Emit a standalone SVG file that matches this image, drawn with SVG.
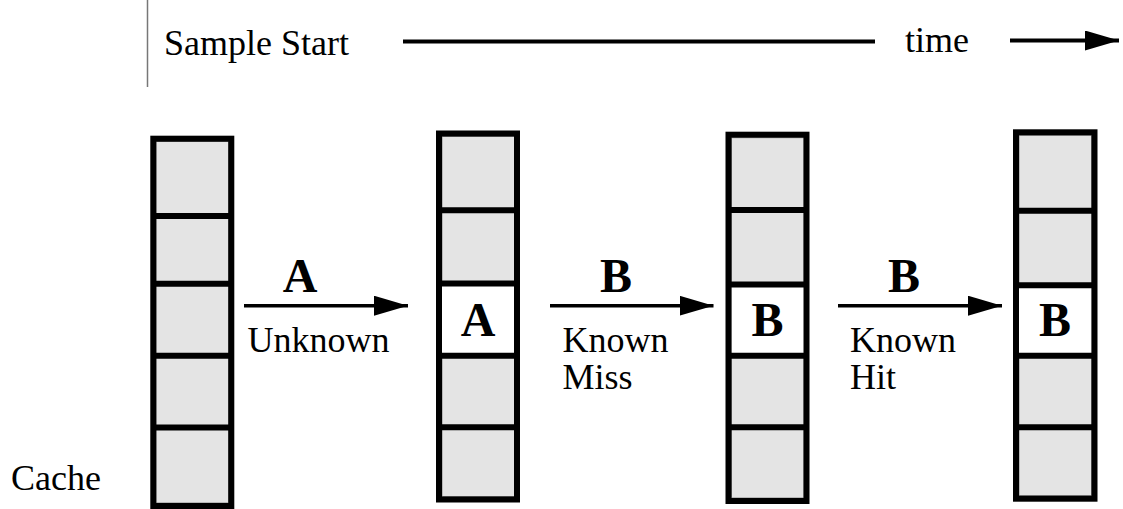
<svg xmlns="http://www.w3.org/2000/svg" width="1123" height="509" viewBox="0 0 1123 509">
<style>
.t{font-family:'Liberation Serif','Times New Roman',serif;font-size:36px;fill:#000}
.b{font-family:'Liberation Serif','Times New Roman',serif;font-size:48px;font-weight:bold;fill:#000}
.frame{fill:none;stroke:#000;stroke-width:6}
.cell{fill:#e4e4e4;stroke:#8a8a8a;stroke-width:1}
.div{stroke:#000;stroke-width:6}
.ln{stroke:#000;stroke-width:3.5;fill:none}
</style>
<defs>
<marker id="ah" markerUnits="userSpaceOnUse" markerWidth="34" markerHeight="20" refX="34" refY="10" orient="auto">
<polygon points="0,0 34,10 0,20" fill="#000"/>
</marker>
</defs>
<rect width="1123" height="509" fill="#fff"/>

<g id="header">
<line x1="147.5" y1="0" x2="147.5" y2="87" stroke="#777" stroke-width="1.5"/>
<text class="t" x="164" y="55">Sample Start</text>
<line x1="403" y1="41.5" x2="875" y2="41.5" stroke="#000" stroke-width="4"/>
<text class="t" x="905" y="52">time</text>
<line x1="1010" y1="40.5" x2="1119" y2="40.5" stroke="#000" stroke-width="4" marker-end="url(#ah)"/>
</g>

<g id="label-cache"><text class="t" x="11" y="490">Cache</text></g>

<g id="cache1">
<rect class="cell" x="156" y="141.5" width="72.5" height="361.5"/>
<line class="div" x1="153" y1="216" x2="231" y2="216"/>
<line class="div" x1="153" y1="283.7" x2="231" y2="283.7"/>
<line class="div" x1="153" y1="355.7" x2="231" y2="355.7"/>
<line class="div" x1="153" y1="427.5" x2="231" y2="427.5"/>
<rect class="frame" x="153.3" y="138.7" width="78" height="367.3"/>
</g>

<g id="cache2">
<rect class="cell" x="442" y="136.5" width="72.5" height="360"/>
<rect x="442" y="283" width="72.5" height="73" fill="#fff"/>
<line class="div" x1="439" y1="210.3" x2="517" y2="210.3"/>
<line class="div" x1="439" y1="283.5" x2="517" y2="283.5"/>
<line class="div" x1="439" y1="355.7" x2="517" y2="355.7"/>
<line class="div" x1="439" y1="427.3" x2="517" y2="427.3"/>
<rect class="frame" x="439" y="133.5" width="78" height="366"/>
<text class="b" x="478" y="336" text-anchor="middle">A</text>
</g>

<g id="cache3">
<rect class="cell" x="731.5" y="137.7" width="72.5" height="360.3"/>
<rect x="731.5" y="284.5" width="72.5" height="71" fill="#fff"/>
<line class="div" x1="728.5" y1="210" x2="806.5" y2="210"/>
<line class="div" x1="728.5" y1="284.5" x2="806.5" y2="284.5"/>
<line class="div" x1="728.5" y1="355.7" x2="806.5" y2="355.7"/>
<line class="div" x1="728.5" y1="427.3" x2="806.5" y2="427.3"/>
<rect class="frame" x="728.5" y="134.7" width="78" height="366.3"/>
<text class="b" x="767.5" y="336" text-anchor="middle">B</text>
</g>

<g id="cache4">
<rect class="cell" x="1019" y="135.3" width="72.5" height="360.4"/>
<rect x="1019" y="285" width="72.5" height="70.5" fill="#fff"/>
<line class="div" x1="1016" y1="210.7" x2="1094.5" y2="210.7"/>
<line class="div" x1="1016" y1="285.2" x2="1094.5" y2="285.2"/>
<line class="div" x1="1016" y1="355.7" x2="1094.5" y2="355.7"/>
<line class="div" x1="1016" y1="427.3" x2="1094.5" y2="427.3"/>
<rect class="frame" x="1016" y="132.3" width="78.5" height="366.4"/>
<text class="b" x="1055" y="336" text-anchor="middle">B</text>
</g>

<g id="connectors">
<line class="ln" x1="244" y1="305.7" x2="408" y2="305.7" marker-end="url(#ah)"/>
<line class="ln" x1="550" y1="305.7" x2="713.5" y2="305.7" marker-end="url(#ah)"/>
<line class="ln" x1="838" y1="305.7" x2="1002" y2="305.7" marker-end="url(#ah)"/>
</g>

<g id="connector-labels">
<text class="b" x="300" y="292" text-anchor="middle">A</text>
<text class="t" x="247.5" y="352.3">Unknown</text>
<text class="b" x="616" y="292" text-anchor="middle">B</text>
<text class="t" x="562.5" y="352.3">Known</text>
<text class="t" x="562.5" y="388.5">Miss</text>
<text class="b" x="904" y="292" text-anchor="middle">B</text>
<text class="t" x="850" y="352.3">Known</text>
<text class="t" x="850" y="388.5">Hit</text>
</g>
</svg>
